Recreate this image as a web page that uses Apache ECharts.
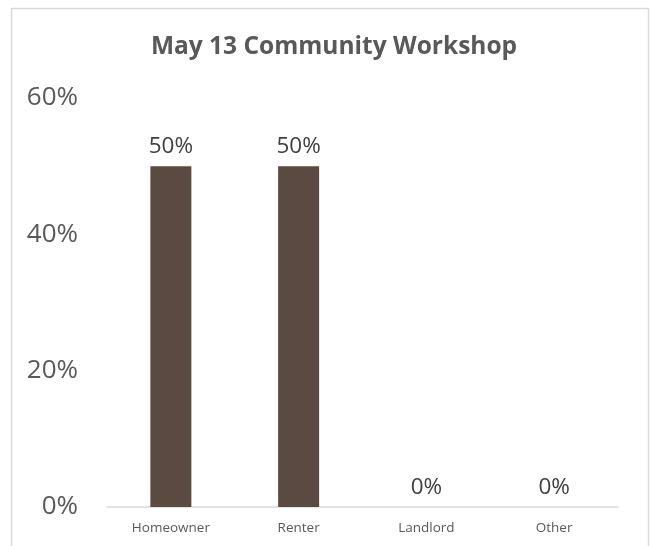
<!DOCTYPE html>
<html><head><meta charset="utf-8">
<script src="https://cdn.jsdelivr.net/npm/echarts@6/dist/echarts.min.js"></script>
<style>html,body{margin:0;padding:0;background:#fff}#c{width:650px;height:546px}</style>
</head><body><div id="c"></div>
<script>
const categories = ["Homeowner", "Renter", "Landlord", "Other"];
const values = [0.5, 0.5, 0, 0];
const yTicks = [0, 0.2, 0.4, 0.6];
const titleText = "May 13 Community Workshop";

const chart = echarts.init(document.getElementById('c'), null, {renderer: 'canvas'});
const font = '"Open Sans", sans-serif';
chart.setOption({
  animation: false,
  backgroundColor: '#ffffff',
  graphic: [{
    type: 'rect', left: 9, top: 6, silent: true,
    shape: {width: 637, height: 560},
    style: {fill: 'none', stroke: '#d9d9d9', lineWidth: 1.5}
  }],
  title: {
    text: titleText, left: 329, top: 30, textAlign: 'center',
    textStyle: {fontFamily: font, fontWeight: 'bold', fontSize: 24.5, color: '#595959'}
  },
  grid: {left: 107, right: 32, top: 98, bottom: 39, containLabel: false},
  xAxis: {
    type: 'category', data: categories,
    axisLine: {lineStyle: {color: '#d9d9d9', width: 1.5}},
    axisTick: {show: false},
    axisLabel: {fontFamily: font, fontSize: 13.5, color: '#595959', margin: 14}
  },
  yAxis: {
    type: 'value', min: yTicks[0], max: yTicks[yTicks.length - 1], interval: 0.2,
    splitLine: {show: false}, axisLine: {show: false}, axisTick: {show: false},
    axisLabel: {fontFamily: font, fontSize: 26, color: '#595959', margin: 29,
      formatter: v => Math.round(v * 100) + '%'}
  },
  series: [{
    type: 'bar', data: values, barWidth: 41,
    itemStyle: {color: '#5b4a42'},
    label: {show: true, position: 'top', distance: 8, fontFamily: font, fontSize: 22.5, color: '#404040',
      formatter: p => Math.round(p.value * 100) + '%'}
  }]
});
</script></body></html>
